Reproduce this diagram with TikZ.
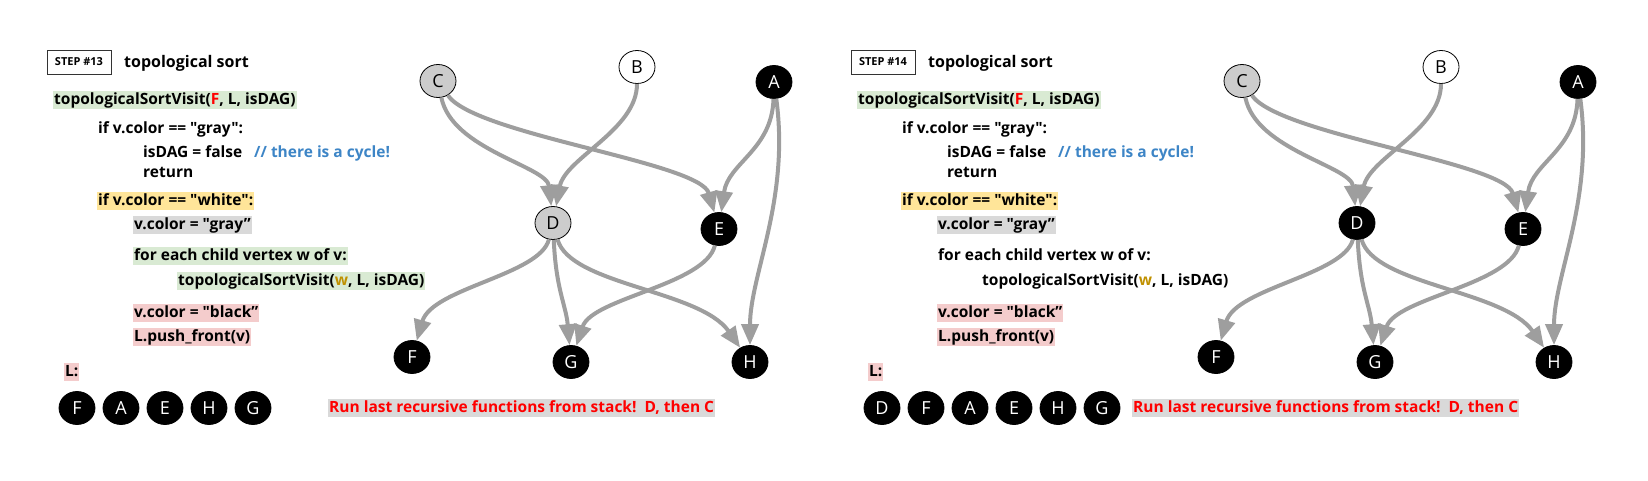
\documentclass[tikz,border=0pt]{standalone}
\usepackage{fontspec}
\newfontfamily\osf{Open Sans}
\setmainfont{Open Sans}
\usetikzlibrary{arrows.meta,shapes.geometric}
\definecolor{hlgreen}{HTML}{D9EAD3}
\definecolor{hlyellow}{HTML}{FFE599}
\definecolor{hlgray}{HTML}{D9D9D9}
\definecolor{hlpink}{HTML}{F4CCCC}
\definecolor{cmtblue}{HTML}{3D85C6}
\definecolor{wgold}{HTML}{BF9000}
\definecolor{edgegray}{HTML}{9E9E9E}
\definecolor{nodegray}{HTML}{CCCCCC}
\newcommand\cdfont{\osf\fontsize{15.5}{18}\selectfont\bfseries}
\newcommand\ndfont{\osf\fontsize{18}{20}\selectfont}
\newcommand\tsPanel[4]{%
  \node[stepbox] (#1step) at (79,62) {STEP \##2};
  \node[anchor=base west, font=\osf\fontsize{16}{18}\selectfont\bfseries, inner sep=0pt] (#1title) at (124,67) {topological sort};
  \node[code, fill=hlgreen] (#1l1) at (53,100) {topologicalSortVisit(\textcolor{red}{F}, L, isDAG)};
  \node[code] (#1l2) at (97,129) {if v.color == "gray":};
  \node[code] (#1l3) at (142,153) {isDAG = false};
  \node[code, text=cmtblue] (#1c3) at (253,153) {// there is a cycle!};
  \node[code] (#1l4) at (142,173) {return};
  \node[code, fill=hlyellow] (#1l5) at (97,201) {if v.color == "white":};
  \node[code, fill=hlgray] (#1l6) at (133,225) {v.color = "gray”};
  \node[code, #4] (#1l7) at (133,256) {for each child vertex w of v:};
  \node[code, #4] (#1l8) at (177,281) {topologicalSortVisit(\textcolor{wgold}{w}, L, isDAG)};
  \node[code, fill=hlpink] (#1l9) at (133,313) {v.color = "black”};
  \node[code, fill=hlpink] (#1l10) at (133,337) {L.push\_front(v)};
  \node[code, fill=hlpink] (#1L) at (64,372) {L:};
  \node[code, fill=hlgray, text=red] (#1msg) at (328,408) {Run last recursive functions from stack!\ \ D, then C};
  \node[gry] (#1C) at (438,81) {C};
  \node[wht] (#1B) at (637,67) {B};
  \node[blk] (#1A) at (774,82) {A};
  \node[#3]  (#1D) at (553,223) {D};
  \node[blk] (#1E) at (719,229) {E};
  \node[blk] (#1F) at (412,357) {F};
  \node[blk] (#1G) at (571,362) {G};
  \node[blk] (#1H) at (750,362) {H};
  \draw[edge] (#1C) .. controls (452,150) and (547,166) .. (#1D);
  \draw[edge] (#1C) .. controls (475,135) and (700,162) .. (#1E);
  \draw[edge] (#1B) .. controls (637,130) and (565,158) .. (#1D);
  \draw[edge] (#1A) .. controls (772,150) and (728,163) .. (#1E);
  \draw[edge] (#1A) .. controls (790,200) and (750,275) .. (#1H);
  \draw[edge] (#1D) .. controls (540,275) and (432,288) .. (#1F);
  \draw[edge] (#1D) .. controls (556,290) and (566,305) .. (#1G);
  \draw[edge] (#1D) .. controls (570,285) and (700,290) .. (#1H);
  \draw[edge] (#1E) .. controls (705,285) and (592,298) .. (#1G);
}
\begin{document}
\begin{tikzpicture}[x=1pt,y=-1pt,
  gnode/.style={ellipse, draw=black, line width=0.8pt, minimum width=36pt, minimum height=33pt, inner sep=0pt, font=\ndfont},
  blk/.style={gnode, fill=black, text=white},
  gry/.style={gnode, fill=nodegray},
  wht/.style={gnode, fill=white},
  edge/.style={draw=edgegray, line width=4pt, -{Triangle[length=21pt,width=17pt]}},
  code/.style={anchor=west, font=\cdfont, inner xsep=1pt, inner ysep=1.5pt, text height=11.5pt, text depth=3.5pt},
  stepbox/.style={draw=black!80, line width=1pt, minimum width=64pt, minimum height=24pt, inner sep=0pt, font=\osf\fontsize{11}{12}\selectfont\bfseries},
  nohl/.style={},
  ]
\useasboundingbox (0,0) rectangle (1648,480);
\tsPanel{l}{13}{gry}{fill=hlgreen}
\foreach \t [count=\i] in {F,A,E,H,G} \node[blk] (lq\i) at (33+44*\i,408) {\t};
\begin{scope}[xshift=804pt]
\tsPanel{r}{14}{blk}{nohl}
\end{scope}
\foreach \t [count=\i] in {D,F,A,E,H,G} \node[blk] (rq\i) at (838+44*\i,408) {\t};
\end{tikzpicture}
\end{document}
